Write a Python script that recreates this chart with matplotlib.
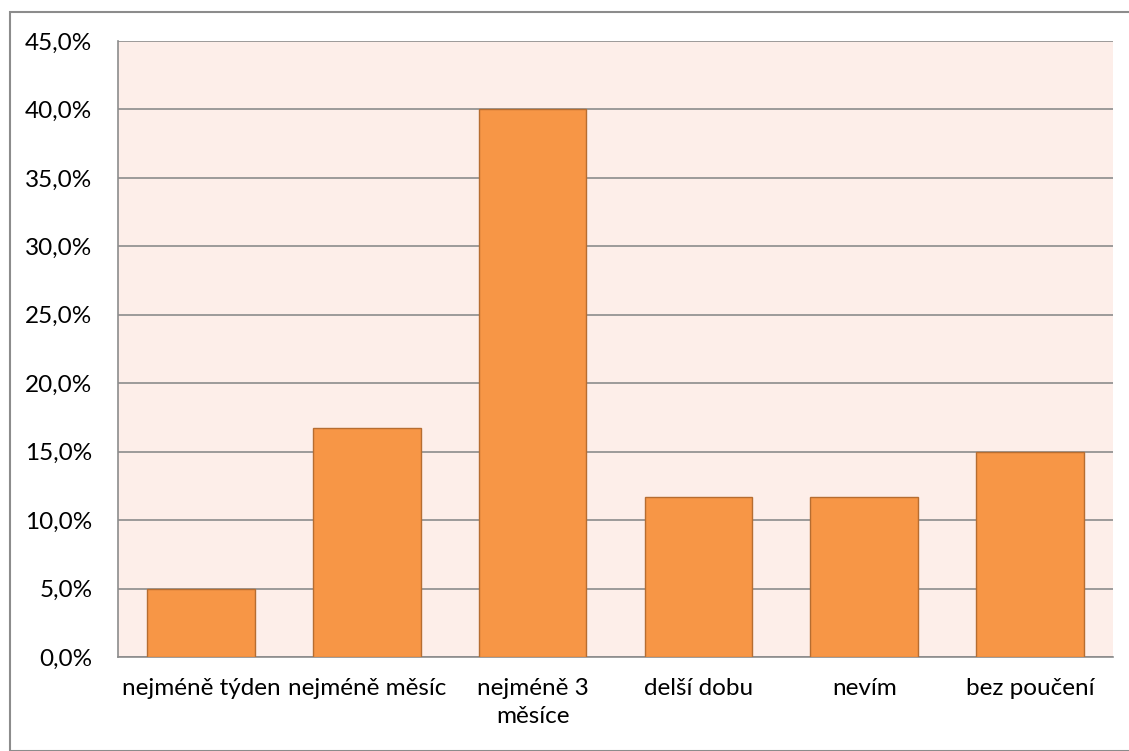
import matplotlib
matplotlib.use("Agg")
import matplotlib.pyplot as plt
from matplotlib.patches import Rectangle
from matplotlib.ticker import FuncFormatter, MultipleLocator

categories = ["nejméně týden", "nejméně měsíc", "nejméně 3\nměsíce", "delší dobu", "nevím", "bez poučení"]
values = [5.0, 16.7, 40.0, 11.7, 11.7, 15.0]

plt.rcParams["font.family"] = ["Lato", "DejaVu Sans"]

W, H = 1129, 751
fig = plt.figure(figsize=(W / 100, H / 100), dpi=100)
fig.patch.set_facecolor("white")

# outer chart frame
fig.add_artist(Rectangle((10 / W, 0), 1.2, 1 - 12 / H, transform=fig.transFigure,
                         fill=False, edgecolor="#8c8c8c", linewidth=1.5))

left, right, top, bottom = 118, 1113, 41, 657
ax = fig.add_axes([left / W, 1 - bottom / H, (right - left) / W, (bottom - top) / H])
ax.set_facecolor("#FDEEE9")

x = range(len(categories))
ax.bar(x, values, width=0.65, color="#F79646", edgecolor="#B66D31", linewidth=1.0, zorder=3)

ax.set_xlim(-0.5, len(categories) - 0.5)
ax.set_ylim(0, 45)
ax.yaxis.set_major_locator(MultipleLocator(5))
ax.yaxis.set_major_formatter(FuncFormatter(lambda v, p: f"{v:.1f}".replace(".", ",") + "%"))
ax.grid(axis="y", color="#8c8c8c", linewidth=1.2, zorder=1)
ax.set_axisbelow(True)

for side in ["top", "right"]:
    ax.spines[side].set_visible(False)
ax.spines["left"].set_color("#8c8c8c")
ax.spines["bottom"].set_color("#8c8c8c")
ax.spines["left"].set_linewidth(1.2)
ax.spines["bottom"].set_linewidth(1.2)

ax.set_xticks(list(x))
ax.set_xticklabels(categories, fontsize=17.5, color="black", linespacing=1.45)
ax.tick_params(axis="x", length=0, pad=15)
ax.tick_params(axis="y", length=0, pad=18.5, labelsize=17.5, labelcolor="black")

fig.savefig("out.png", dpi=100)
